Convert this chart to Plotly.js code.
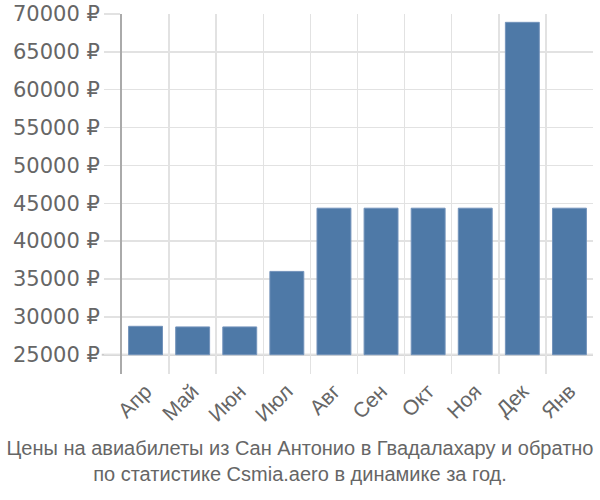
<!DOCTYPE html>
<html>
<head>
<meta charset="utf-8">
<script src="https://cdn.plot.ly/plotly-3.0.1.min.js"></script>
<style>
  html, body { margin: 0; padding: 0; background: #fff; }
  #chart { width: 600px; height: 500px; }
</style>
</head>
<body>
<div id="chart"></div>
<script>
// months along the x axis
var months = ["Апр", "Май", "Июн", "Июл", "Авг", "Сен", "Окт", "Ноя", "Дек", "Янв"];
// average ticket price, roubles
var prices = [28750, 28670, 28670, 36000, 44350, 44350, 44350, 44350, 68900, 44350];
// bars are drawn up from this level
var baseLevel = 25000;
var yTicks = [25000, 30000, 35000, 40000, 45000, 50000, 55000, 60000, 65000, 70000];
var yLabels = yTicks.map(function (v) { return v + " ₽"; });

var trace = {
    x: months,
    y: prices.map(function (p) { return p - baseLevel; }),
    base: baseLevel,
    type: "bar",
    marker: {
        color: "#4e79a7",
        line: { color: "#7393bb", width: 1 }
    },
    hoverinfo: "skip"
};

var layout = {
    width: 600,
    height: 500,
    margin: { l: 122, r: 7, t: 14, b: 126 },
    paper_bgcolor: "#fff",
    plot_bgcolor: "#fff",
    bargap: 0.28,
    showlegend: false,
    font: { family: "Liberation Sans, Arial, sans-serif", color: "#666", size: 20 },
    title: {
        text: "Цены на авиабилеты из Сан Антонио в Гвадалахару и обратно<br>по статистике Csmia.aero в динамике за год.",
        font: { size: 20, color: "#666" },
        x: 0.5,
        xanchor: "center",
        y: 0.09,
        yanchor: "top"
    },
    xaxis: {
        type: "category",
        tickson: "boundaries",
        showgrid: true,
        gridcolor: "#e2e2e2",
        gridwidth: 1.5,
        tickangle: -45,
        ticks: "",
        showline: false,
        zeroline: false,
        tickfont: { family: "Liberation Sans, Arial, sans-serif", size: 21, color: "#666" }
    },
    yaxis: {
        range: [22450, 70000],
        tickvals: yTicks,
        ticktext: yLabels,
        showgrid: true,
        gridcolor: "#e2e2e2",
        gridwidth: 1.5,
        ticks: "outside",
        ticklen: 16,
        tickcolor: "#e2e2e2",
        tickwidth: 1.5,
        showline: true,
        linecolor: "#aaa",
        linewidth: 2,
        zeroline: false,
        tickfont: { family: "DejaVu Sans, sans-serif", size: 21, color: "#666" }
    },
    shapes: [{
        type: "line",
        xref: "paper",
        x0: -0.043,
        x1: 1,
        yref: "y",
        y0: baseLevel,
        y1: baseLevel,
        line: { color: "#ccc", width: 2 },
        layer: "below"
    }]
};

Plotly.newPlot("chart", [trace], layout, { displayModeBar: false, staticPlot: true });
</script>
</body>
</html>
